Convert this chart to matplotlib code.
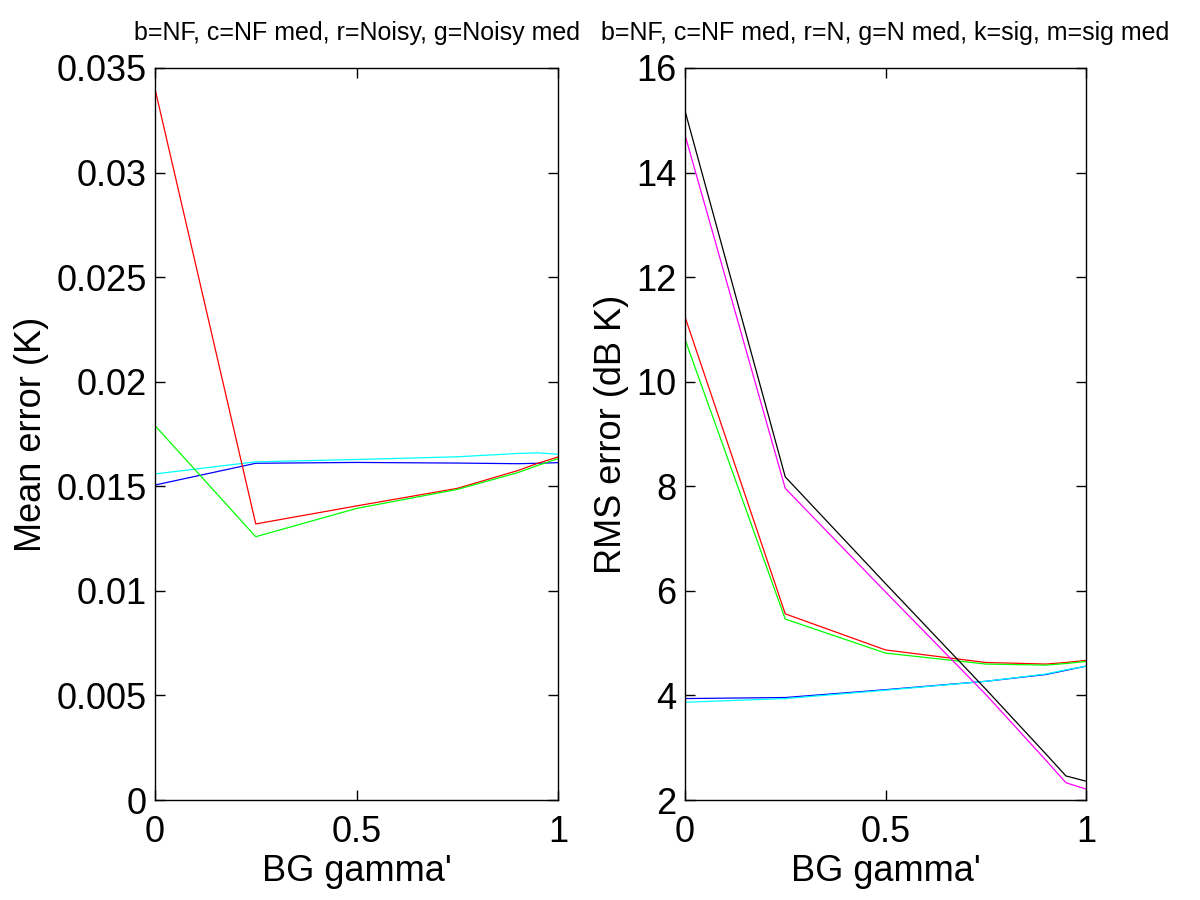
import matplotlib
matplotlib.use("Agg")
import matplotlib.pyplot as plt
from matplotlib.ticker import FixedLocator, FuncFormatter

plt.rcParams['font.family'] = ['Liberation Sans', 'DejaVu Sans']

gamma = [0, 0.25, 0.5, 0.75, 0.9, 0.95, 1]

# Left panel: mean error (K)
mean_nf = [0.01506, 0.01610, 0.01614, 0.01611, 0.01608, 0.01610, 0.01613]
mean_nf_med = [0.01559, 0.01617, 0.01628, 0.01641, 0.01657, 0.01660, 0.01653]
mean_noisy = [0.0340, 0.01320, 0.01406, 0.01490, 0.01575, 0.01610, 0.01640]
mean_noisy_med = [0.01790, 0.01259, 0.01394, 0.01485, 0.01565, 0.01600, 0.01632]

# Right panel: RMS error (dB K)
rms_nf = [3.94, 3.96, 4.11, 4.27, 4.40, 4.48, 4.56]
rms_nf_med = [3.87, 3.94, 4.10, 4.27, 4.41, 4.49, 4.56]
rms_n = [11.24, 5.56, 4.87, 4.63, 4.60, 4.63, 4.67]
rms_n_med = [10.81, 5.46, 4.81, 4.60, 4.58, 4.61, 4.65]
rms_sig = [15.18, 8.18, 6.14, 4.12, 2.88, 2.46, 2.36]
rms_sig_med = [14.72, 7.96, 5.98, 4.02, 2.76, 2.33, 2.21]

left_title = "b=NF, c=NF med, r=Noisy, g=Noisy med"
right_title = "b=NF, c=NF med, r=N, g=N med, k=sig, m=sig med"
xlab = "BG gamma'"
left_ylab = "Mean error (K)"
right_ylab = "RMS error (dB K)"
xticks = [0, 0.5, 1]
left_yticks = [0, 0.005, 0.01, 0.015, 0.02, 0.025, 0.03, 0.035]
right_yticks = [2, 4, 6, 8, 10, 12, 14, 16]

FS = 26
fig = plt.figure(figsize=(12, 9), dpi=100)
ax1 = fig.add_axes([155/1200, 1-800/900, 403/1200, 732/900])
ax2 = fig.add_axes([685/1200, 1-800/900, 401/1200, 732/900])

lw = 0.9
for y, c in [(mean_nf, '#0000ff'), (mean_nf_med, '#00ffff'), (mean_noisy, '#ff0000'),
             (mean_noisy_med, '#00ff00')]:
    ax1.plot(gamma, y, color=c, lw=lw)
for y, c in [(rms_nf, '#0000ff'), (rms_nf_med, '#00ffff'), (rms_n, '#ff0000'),
             (rms_n_med, '#00ff00'), (rms_sig, '#000000'), (rms_sig_med, '#ff00ff')]:
    ax2.plot(gamma, y, color=c, lw=lw)

def fmt(v, pos):
    s = ('%.3f' % v).rstrip('0').rstrip('.')
    return s if s else '0'

for ax, yt, ylab, title in [(ax1, left_yticks, left_ylab, left_title),
                            (ax2, right_yticks, right_ylab, right_title)]:
    ax.set_xlim(0, 1)
    ax.set_ylim(yt[0], yt[-1])
    ax.xaxis.set_major_locator(FixedLocator(xticks))
    ax.yaxis.set_major_locator(FixedLocator(yt))
    ax.xaxis.set_major_formatter(FuncFormatter(fmt))
    ax.yaxis.set_major_formatter(FuncFormatter(fmt))
    ax.tick_params(direction='in', length=7, width=1, top=True, right=True,
                   labelsize=FS, colors='black')
    ax.tick_params(axis='x', pad=11)
    ax.tick_params(axis='y', pad=6)
    for sp in ax.spines.values():
        sp.set_linewidth(1)
    ax.set_xlabel(xlab, fontsize=FS, labelpad=3)
    ax.set_ylabel(ylab, fontsize=FS, labelpad=5)
    ax.set_title(title, fontsize=18, pad=20)

fig.savefig("out.png", dpi=100, facecolor='white')
